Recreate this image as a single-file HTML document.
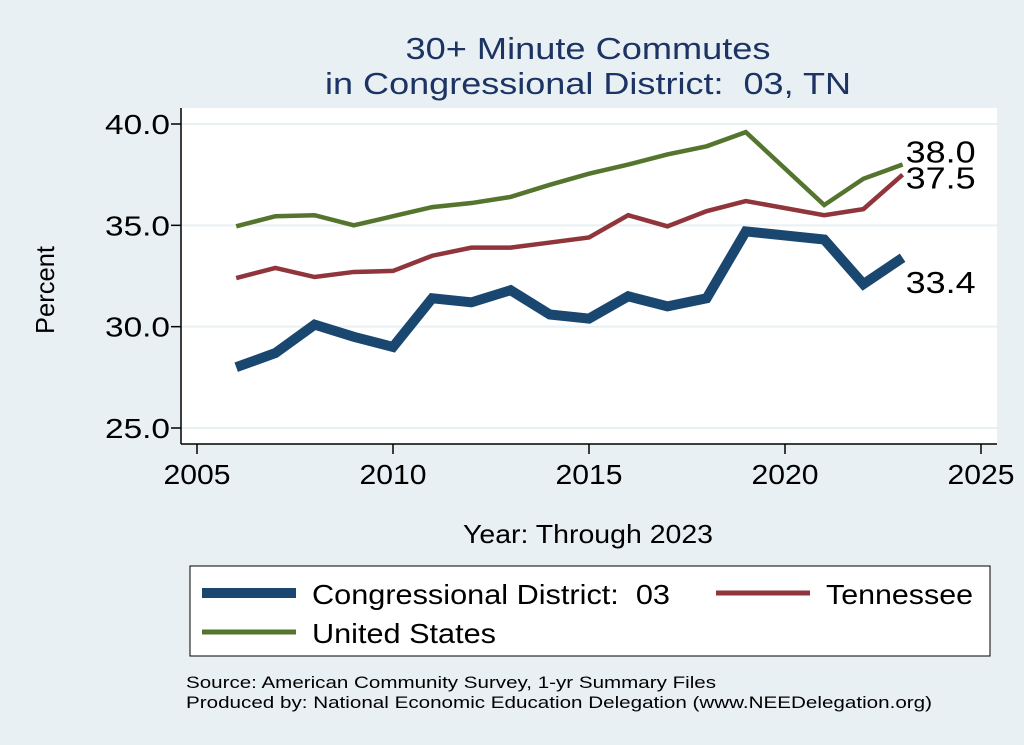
<!DOCTYPE html>
<html><head><meta charset="utf-8"><style>
body{margin:0;background:#e8f0f3;}
svg{display:block;font-family:"Liberation Sans",Arial,sans-serif;}
text{white-space:pre;}
</style></head><body>
<svg id="chart" width="1024" height="745">
<rect width="1024" height="745" fill="#e8f0f3"/>
<text x="588" y="59" font-size="31" fill="#1c3363" text-anchor="middle" textLength="365" lengthAdjust="spacingAndGlyphs">30+ Minute Commutes</text>
<text x="588" y="94" font-size="31" fill="#1c3363" text-anchor="middle" textLength="526" lengthAdjust="spacingAndGlyphs">in Congressional District:  03, TN</text>
<rect x="181" y="108" width="816" height="336" fill="#fff"/>
<g id="grid"></g>
<g id="axes"></g>
<g id="series"></g>
<text x="54" y="290" font-size="26" text-anchor="middle" transform="rotate(-90 54 290)" textLength="88" lengthAdjust="spacingAndGlyphs">Percent</text>
<text x="588" y="543" font-size="26" text-anchor="middle" textLength="250" lengthAdjust="spacingAndGlyphs">Year: Through 2023</text>
<rect x="190" y="566" width="800" height="90" fill="#fff" stroke="#000" stroke-width="1"/>
<g>
<line x1="202" y1="593" x2="296" y2="593" stroke="#1a476f" stroke-width="10"/>
<text x="312" y="604" font-size="28" textLength="358" lengthAdjust="spacingAndGlyphs">Congressional District:  03</text></g>
<g>
<line x1="716" y1="593" x2="810" y2="593" stroke="#90353b" stroke-width="5"/>
<text x="826" y="604" font-size="28" textLength="147" lengthAdjust="spacingAndGlyphs">Tennessee</text></g>
<g>
<line x1="202" y1="632" x2="296" y2="632" stroke="#55752f" stroke-width="5"/>
<text x="312" y="643" font-size="28" textLength="184" lengthAdjust="spacingAndGlyphs">United States</text></g>
<text x="186" y="688" font-size="17" textLength="530" lengthAdjust="spacingAndGlyphs">Source: American Community Survey, 1-yr Summary Files</text>
<text x="186" y="708" font-size="17" textLength="746" lengthAdjust="spacingAndGlyphs">Produced by: National Economic Education Delegation (www.NEEDelegation.org)</text>
</svg>
<script>
const years=[2006,2007,2008,2009,2010,2011,2012,2013,2014,2015,2016,2017,2018,2019,2021,2022,2023];
const district=[28.0,28.7,30.1,29.5,29.0,31.4,31.2,31.8,30.6,30.4,31.5,31.0,31.4,34.7,34.3,32.1,33.4];
const tennessee=[32.4,32.9,32.45,32.7,32.75,33.5,33.9,33.9,34.15,34.4,35.5,34.95,35.7,36.2,35.5,35.8,37.5];
const unitedStates=[34.95,35.45,35.5,35.0,35.45,35.9,36.1,36.4,37.0,37.55,38.0,38.5,38.9,39.6,36.0,37.3,38.0];
const yTicks=[25,30,35,40];
const yTickLabels=["25.0","30.0","35.0","40.0"];
const xTicks=[2005,2010,2015,2020,2025];
const NS="http://www.w3.org/2000/svg";
const X=v=>197+(v-2005)*39.2;
const Y=v=>428-(v-25)*(304/15);
function mk(t,a,p){const e=document.createElementNS(NS,t);for(const k in a)e.setAttribute(k,a[k]);p.appendChild(e);return e;}
const grid=document.getElementById('grid'),axes=document.getElementById('axes'),ser=document.getElementById('series');
yTicks.forEach((t,i)=>{
 const g=mk('line',{x1:181,x2:997,y1:Y(t),y2:Y(t),stroke:'#e8f0f3','stroke-width':2},grid);
 
 
 mk('line',{x1:171,x2:181,y1:Y(t),y2:Y(t),stroke:'#000','stroke-width':1.5},axes);
 const l=mk('text',{x:170,y:Y(t)+10,'font-size':28,'text-anchor':'end',textLength:65,lengthAdjust:'spacingAndGlyphs'},axes);
 l.textContent=yTickLabels[i];
 
 
});
mk('line',{x1:181,x2:181,y1:108,y2:444,stroke:'#000','stroke-width':1.5},axes);
mk('line',{x1:181,x2:997,y1:444,y2:444,stroke:'#000','stroke-width':1.5},axes);
xTicks.forEach(t=>{
 mk('line',{x1:X(t),x2:X(t),y1:444,y2:454,stroke:'#000','stroke-width':1.5},axes);
 const l=mk('text',{x:X(t),y:484,'font-size':28,'text-anchor':'middle',textLength:67,lengthAdjust:'spacingAndGlyphs'},axes);
 l.textContent=t;
 
 
});
function line(vals,color,w,name,dy){
 const p=mk('polyline',{points:vals.map((v,i)=>X(years[i])+','+Y(v)).join(' '),fill:'none',stroke:color,'stroke-width':w,'stroke-linejoin':'miter'},ser);
 
 
 const last=vals[vals.length-1];
 const t=mk('text',{x:X(years[years.length-1])+3,y:Y(last)+dy,'font-size':31,textLength:70,lengthAdjust:'spacingAndGlyphs'},ser);
 t.textContent=last.toFixed(1);
 
 
}
line(unitedStates,'#55752f',4.5,'line-united-states',-2);
line(tennessee,'#90353b',4.5,'line-tennessee',14);
line(district,'#1a476f',10,'line-district',35);
</script>
</body></html>
